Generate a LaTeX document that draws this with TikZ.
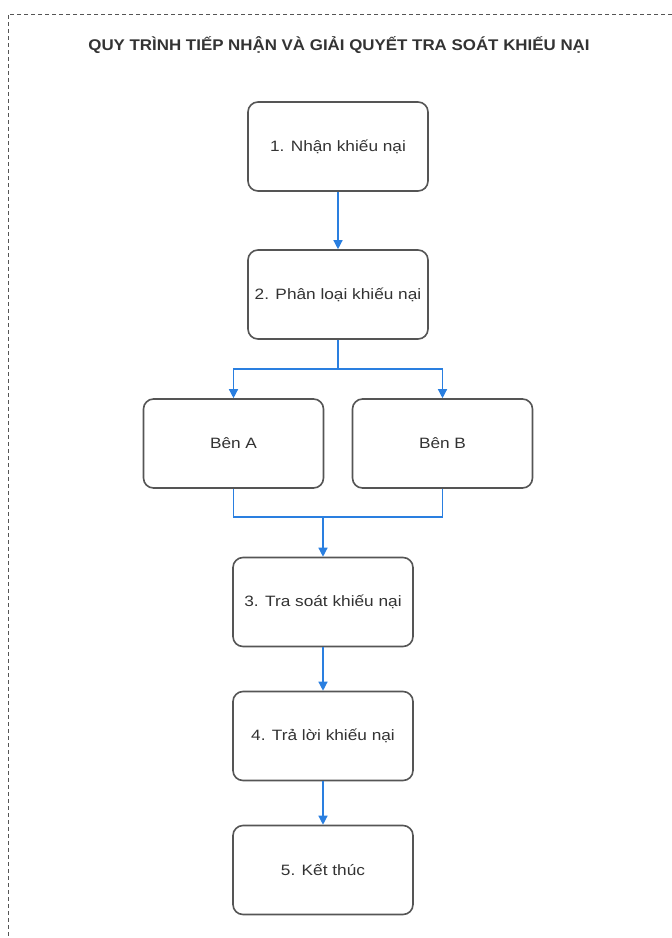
\documentclass[tikz,border=0pt]{standalone}
\usepackage{fontspec}
\setmainfont{Liberation Sans}
\newfontfamily\boxfont[FakeStretch=1.15]{Liberation Sans}
\newfontfamily\titlefont[FakeStretch=1.09]{Liberation Sans}
\usetikzlibrary{arrows.meta}
\definecolor{boxline}{HTML}{555555}
\definecolor{txt}{HTML}{333333}
\definecolor{flow}{HTML}{2A7FE0}
\tikzset{
  stepbox/.style={draw=boxline, line width=1.6pt, rounded corners=10pt, fill=white,
    minimum width=180pt, minimum height=89pt, inner sep=0pt, text=txt,
    font=\boxfont\fontsize{15}{18}\selectfont},
  flowline/.style={draw=flow, line width=1.3pt},
  flowarrow/.style={flowline, -{Triangle[length=9pt,width=9pt]}},
  frame/.style={draw=boxline, line width=1pt, dash pattern=on 4pt off 3pt}
}
\begin{document}
\begin{tikzpicture}[x=1pt,y=-1pt]
\useasboundingbox (0,0) rectangle (672,938);
\draw[frame] (672,14) -- (8,14) -- (8,938);
\node[text=txt, font=\titlefont\bfseries\fontsize{15.5}{18}\selectfont] (title) at (339,45) {QUY TRÌNH TIẾP NHẬN VÀ GIẢI QUYẾT TRA SOÁT KHIẾU NẠI};
\node[stepbox] (b1) at (338,146.5) {1. Nhận khiếu nại};
\node[stepbox] (b2) at (338,294.5) {2. Phân loại khiếu nại};
\node[stepbox] (A) at (233.5,443.5) {Bên A};
\node[stepbox] (B) at (442.5,443.5) {Bên B};
\node[stepbox] (b3) at (323,602) {3. Tra soát khiếu nại};
\node[stepbox] (b4) at (323,736) {4. Trả lời khiếu nại};
\node[stepbox] (b5) at (323,870) {5. Kết thúc};
\coordinate (split) at (338,369);
\coordinate (merge) at (323,517);
\draw[flowarrow] (b1.south) -- (b2.north);
\draw[flowline] (b2.south) -- (split);
\draw[flowarrow] (split) -| (A.north);
\draw[flowarrow] (split) -| (B.north);
\draw[flowline] (A.south) |- (merge);
\draw[flowline] (B.south) |- (merge);
\draw[flowarrow] (merge) -- (b3.north);
\draw[flowarrow] (b3.south) -- (b4.north);
\draw[flowarrow] (b4.south) -- (b5.north);
\end{tikzpicture}
\end{document}
